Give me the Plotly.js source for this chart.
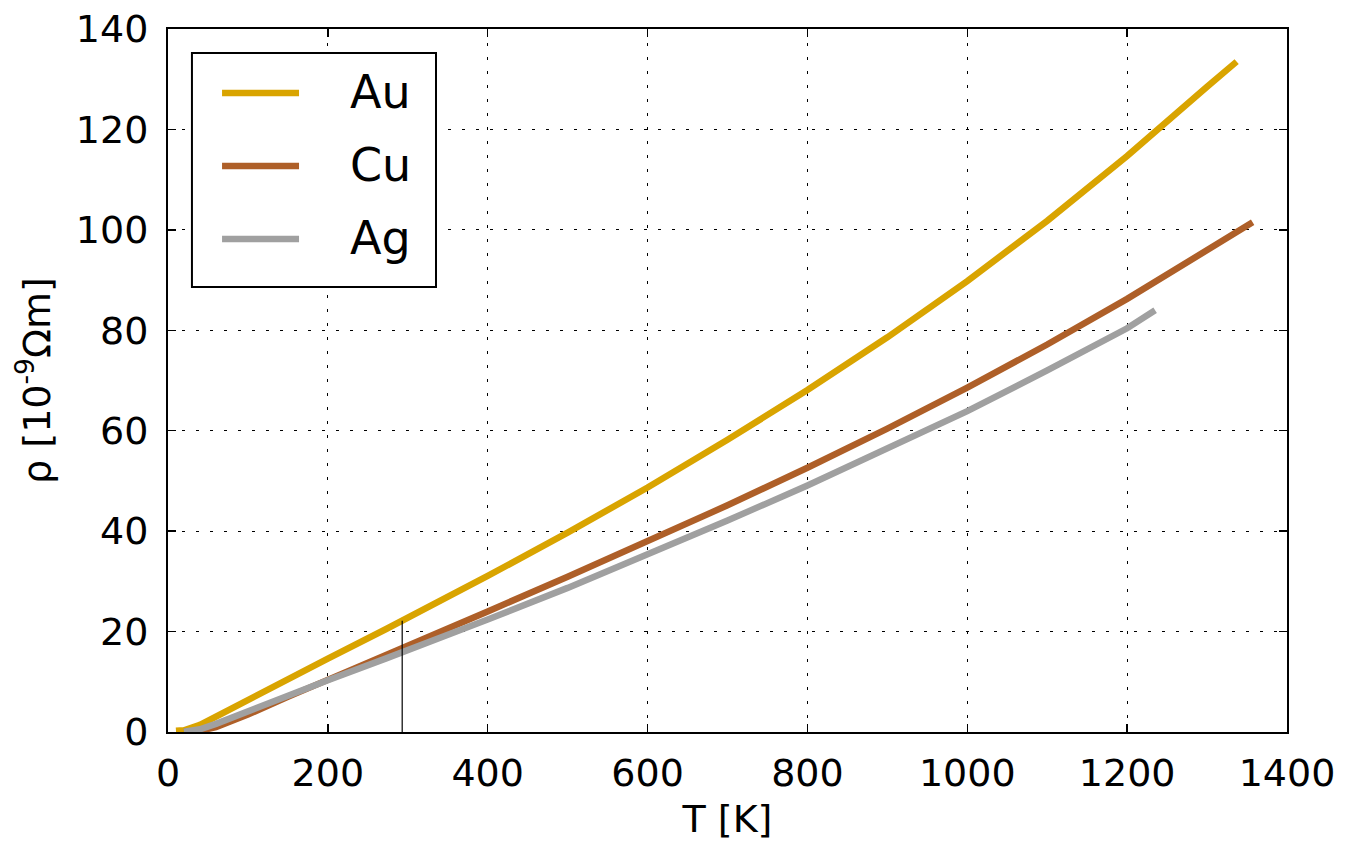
<!DOCTYPE html>
<html>
<head>
<meta charset="utf-8">
<script src="https://cdn.plot.ly/plotly-3.0.1.min.js"></script>
<style>
  html, body { margin: 0; padding: 0; background: #ffffff; }
  #chart { width: 1359px; height: 841px; }
</style>
</head>
<body>
<div id="chart"></div>
<script>
// Temperatures (K) and resistivities (10^-9 Ohm m)
const seriesNames = ["Au", "Cu", "Ag"];
const seriesColors = ["#D9A400", "#AE5F28", "#A0A0A0"];

const tempAu = [10, 20, 40, 60, 80, 100, 150, 200, 273, 293, 300, 400, 500, 600, 700, 800, 900, 1000, 1100, 1200, 1300, 1337];
const rhoAu  = [0.23, 0.35, 1.41, 3.08, 4.81, 6.50, 10.61, 14.62, 20.51, 22.14, 22.71, 31.07, 39.7, 48.7, 58.2, 68.1, 78.6, 89.8, 101.8, 114.7, 128.5, 133.5];

const tempCu = [20, 40, 60, 80, 100, 150, 200, 273, 293, 300, 400, 500, 600, 700, 800, 900, 1000, 1100, 1200, 1300, 1357];
const rhoCu  = [0.028, 0.239, 0.971, 2.15, 3.48, 6.99, 10.46, 15.43, 16.78, 17.25, 24.02, 30.90, 37.92, 45.14, 52.62, 60.41, 68.58, 77.17, 86.26, 95.92, 101.5];

const tempAg = [20, 40, 60, 80, 100, 150, 200, 273, 293, 300, 400, 500, 600, 700, 800, 900, 1000, 1100, 1200, 1235];
const rhoAg  = [0.042, 0.539, 1.62, 2.89, 4.18, 7.26, 10.29, 14.67, 15.87, 16.29, 22.41, 28.7, 35.3, 42.1, 49.1, 56.4, 63.9, 72.0, 80.4, 84.0];

// Room-temperature marker (vertical line up to the Au curve)
const roomT = 293;
const roomRho = rhoAu[tempAu.indexOf(roomT)];

const xTicks = [0, 200, 400, 600, 800, 1000, 1200, 1400];
const yTicks = [0, 20, 40, 60, 80, 100, 120, 140];

const FONT = "DejaVu Sans, Liberation Sans, sans-serif";
const LW = 6.5;

const temps = [tempAu, tempCu, tempAg];
const rhos = [rhoAu, rhoCu, rhoAg];

const traces = [];
for (let i = 0; i < seriesNames.length; i++) {
  traces.push({
    type: "scatter", mode: "lines",
    x: temps[i], y: rhos[i], name: seriesNames[i],
    line: { color: seriesColors[i], width: LW },
    showlegend: false, hoverinfo: "x+y+name"
  });
}
traces.push({
  type: "scatter", mode: "lines",
  x: [roomT, roomT], y: [0, roomRho],
  line: { color: "#000000", width: 1.2 },
  showlegend: false, hoverinfo: "skip"
});

// Manual legend (box, line samples, labels) in paper coordinates
const legBox = { x0: 0.0214, x1: 0.2395, y0: 0.633, y1: 0.9659 };
const legRows = [0.909, 0.805, 0.7013];
const shapes = [{
  type: "rect", xref: "paper", yref: "paper",
  x0: legBox.x0, x1: legBox.x1, y0: legBox.y0, y1: legBox.y1,
  line: { color: "#000000", width: 2 }, fillcolor: "#ffffff", layer: "above"
}];
const annotations = [];
for (let i = 0; i < seriesNames.length; i++) {
  shapes.push({
    type: "line", xref: "paper", yref: "paper",
    x0: 0.0483, x1: 0.1171, y0: legRows[i], y1: legRows[i],
    line: { color: seriesColors[i], width: LW }, layer: "above"
  });
  annotations.push({
    xref: "paper", yref: "paper", x: 0.2185, y: legRows[i] + 0.002,
    xanchor: "right", yanchor: "middle", showarrow: false,
    text: seriesNames[i], font: { family: FONT, size: 46, color: "#000000" }
  });
}

const axisCommon = {
  showline: true, linecolor: "#000000", linewidth: 2, mirror: "allticks",
  ticks: "inside", ticklen: 8, tickwidth: 1.5, tickcolor: "#000000",
  showgrid: true, gridcolor: "#000000", gridwidth: 1.2, griddash: "3px,11px",
  zeroline: false,
  tickfont: { family: FONT, size: 38, color: "#000000" },
  automargin: false
};

const layout = {
  width: 1359, height: 841,
  margin: { l: 168, r: 72, t: 29, b: 109 },
  paper_bgcolor: "#ffffff", plot_bgcolor: "#ffffff",
  font: { family: FONT, color: "#000000" },
  xaxis: Object.assign({}, axisCommon, {
    range: [0, 1400], tickmode: "array", tickvals: xTicks,
    ticktext: xTicks.map(String), ticklabelstandoff: 6,
    title: { text: "T [K]", font: { family: FONT, size: 38, color: "#000000" }, standoff: 12 }
  }),
  yaxis: Object.assign({}, axisCommon, {
    range: [0, 140], tickmode: "array", tickvals: yTicks,
    ticktext: yTicks.map(String), ticklabelstandoff: 10,
    title: { text: "ρ [10<sup>-9</sup>Ωm]", font: { family: FONT, size: 38, color: "#000000" }, standoff: 14 }
  }),
  shapes: shapes,
  annotations: annotations
};

Plotly.newPlot("chart", traces, layout, { displayModeBar: false, staticPlot: true });
</script>
</body>
</html>
